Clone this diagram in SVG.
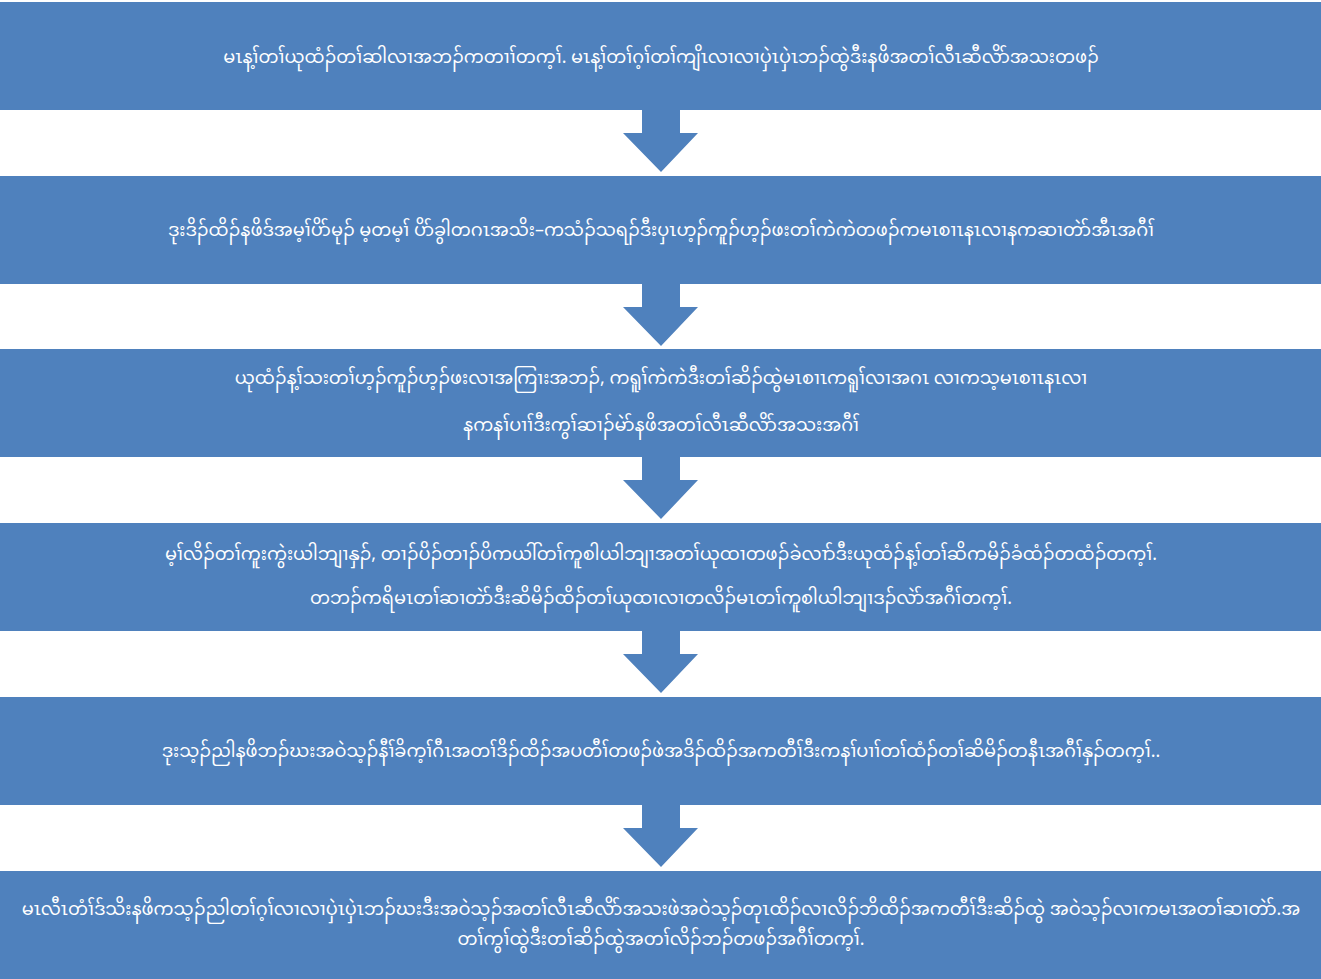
<svg xmlns="http://www.w3.org/2000/svg" width="1321" height="979" viewBox="0 0 1321 979">
<style>
.box{fill:#4F81BD}
.arr{fill:#4F81BD}
.t{fill:#FFFFFF;font-family:"Noto Sans Myanmar","Myanmar Text","Padauk","Noto Sans","DejaVu Sans",sans-serif;font-size:17.8px;text-anchor:middle;dominant-baseline:central}
</style>
<rect width="1321" height="979" fill="#FFFFFF"/>
<g id="connectors">
<path class="arr" d="M642 110 H680 V133 H698 L661 172 L623 133 H642 Z"/>
<path class="arr" d="M642 284 H680 V307 H698 L661 346 L623 307 H642 Z"/>
<path class="arr" d="M642 457 H680 V480 H698 L661 519 L623 480 H642 Z"/>
<path class="arr" d="M642 631 H680 V654 H698 L661 693 L623 654 H642 Z"/>
<path class="arr" d="M642 805 H680 V828 H698 L661 867 L623 828 H642 Z"/>
</g>
<g id="node1">
<rect class="box" x="0" y="2" width="1321" height="108"/>
<text class="t" x="661" y="58">မၤန့ၢ်တၢ်ယုထံၣ်တၢ်ဆါလၢအဘၣ်ကတၢၢ်တက့ၢ်. မၤန့ၢ်တၢ်ဂ့ၢ်တၢ်ကျိၤလၢလၢပှဲၤပှဲၤဘၣ်ထွဲဒီးနဖိအတၢ်လီၤဆီလိာ်အသးတဖၣ်</text>
</g>
<g id="node2">
<rect class="box" x="0" y="176" width="1321" height="108"/>
<text class="t" x="661" y="231">ဒုးဒိၣ်ထိၣ်နဖိဒ်အမ့ၢ်ပိာ်မုၣ် မ့တမ့ၢ် ပိာ်ခွါတဂၤအသိး–ကသံၣ်သရၣ်ဒီးပှၤဟ့ၣ်ကူၣ်ဟ့ၣ်ဖးတၢ်ကဲကဲတဖၣ်ကမၤစၢၤနၤလၢနကဆၢတဲာ်အီၤအဂီၢ်</text>
</g>
<g id="node3">
<rect class="box" x="0" y="349" width="1321" height="108"/>
<text class="t" x="661" y="379">ယုထံၣ်န့ၢ်သးတၢ်ဟ့ၣ်ကူၣ်ဟ့ၣ်ဖးလၢအကြၢးအဘၣ်, ကရူၢ်ကဲကဲဒီးတၢ်ဆိၣ်ထွဲမၤစၢၤကရူၢ်လၢအဂၤ လၢကသ့မၤစၢၤနၤလၢ</text>
<text class="t" x="661" y="426">နကနၢ်ပၢၢ်ဒီးကွၢ်ဆၢၣ်မဲာ်နဖိအတၢ်လီၤဆီလိာ်အသးအဂီၢ်</text>
</g>
<g id="node4">
<rect class="box" x="0" y="523" width="1321" height="108"/>
<text class="t" x="661" y="555">မ့ၢ်လိၣ်တၢ်ကူးကွဲးယါဘျၢနှၣ်, တၢၣ်ပိၣ်တၢၣ်ပိကယါ်တၢ်ကူစါယါဘျၢအတၢ်ယုထၢတဖၣ်ခဲလၢာ်ဒီးယုထံၣ်န့ၢ်တၢ်ဆိကမိၣ်ခံထံၣ်တထံၣ်တက့ၢ်.</text>
<text class="t" x="661" y="599">တဘၣ်ကရိမၤတၢ်ဆၢတဲာ်ဒီးဆိမိၣ်ထိၣ်တၢ်ယုထၢလၢတလိၣ်မၤတၢ်ကူစါယါဘျၢဒၣ်လဲာ်အဂီၢ်တက့ၢ်.</text>
</g>
<g id="node5">
<rect class="box" x="0" y="697" width="1321" height="108"/>
<text class="t" x="661" y="752">ဒုးသ့ၣ်ညါနဖိဘၣ်ဃးအဝဲသ့ၣ်နီၢ်ခိက့ၢ်ဂီၤအတၢ်ဒိၣ်ထိၣ်အပတီၢ်တဖၣ်ဖဲအဒိၣ်ထိၣ်အကတီၢ်ဒီးကနၢ်ပၢၢ်တၢ်ထံၣ်တၢ်ဆိမိၣ်တနီၤအဂီၢ်နှၣ်တက့ၢ်..</text>
</g>
<g id="node6">
<rect class="box" x="0" y="871" width="1321" height="108"/>
<text class="t" x="661" y="910">မၤလီၤတံၢ်ဒ်သိးနဖိကသ့ၣ်ညါတၢ်ဂ့ၢ်လၢလၢပှဲၤပှဲၤဘၣ်ဃးဒီးအဝဲသ့ၣ်အတၢ်လီၤဆီလိာ်အသးဖဲအဝဲသ့ၣ်တုၤထိၣ်လၢလိၣ်ဘိထိၣ်အကတီၢ်ဒီးဆိၣ်ထွဲ အဝဲသ့ၣ်လၢကမၤအတၢ်ဆၢတဲာ်.အ</text>
<text class="t" x="661" y="940">တၢ်ကွၢ်ထွဲဒီးတၢ်ဆိၣ်ထွဲအတၢ်လိၣ်ဘၣ်တဖၣ်အဂီၢ်တက့ၢ်.</text>
</g>
</svg>
